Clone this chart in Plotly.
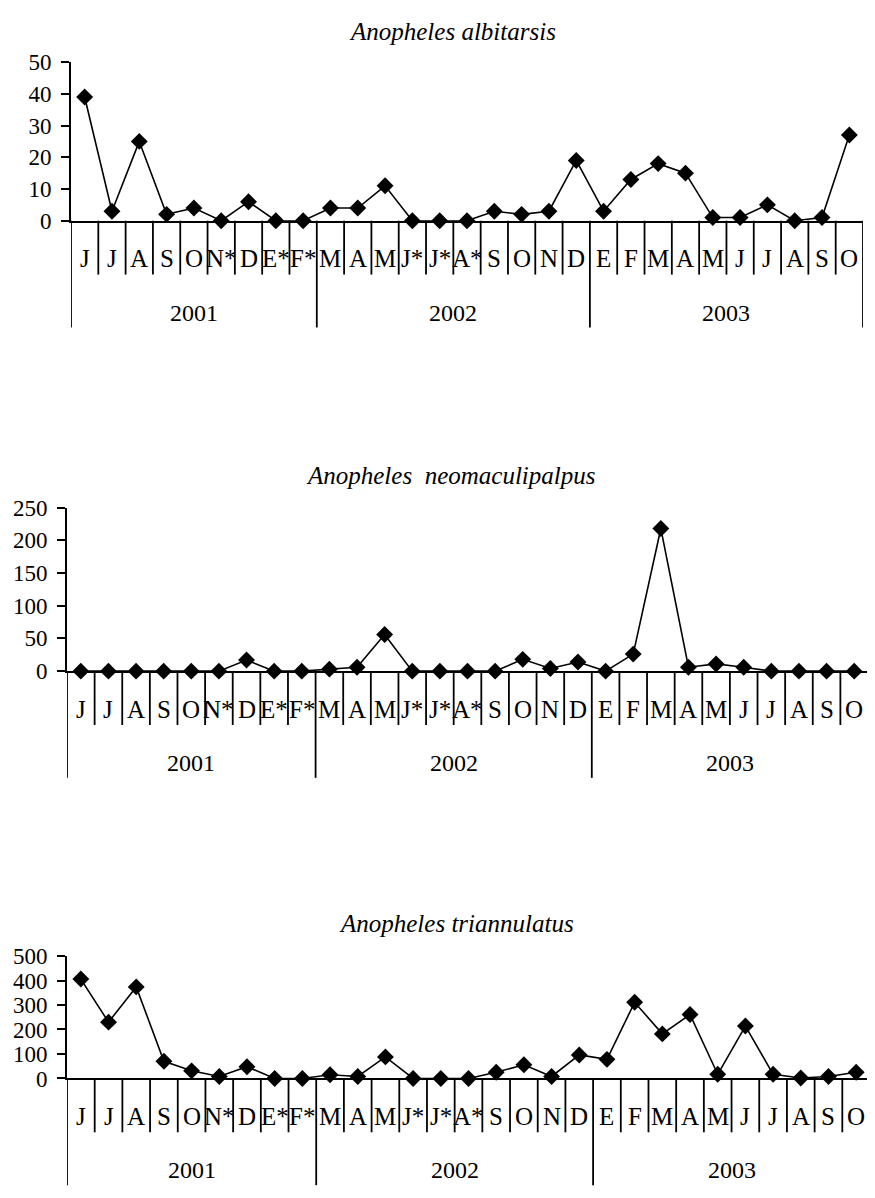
import plotly.graph_objects as go

W, H = 875, 1198
OFF = 8  # page margin around the figure in the browser

months = ["J", "J", "A", "S", "O", "N*", "D", "E*", "F*", "M", "A", "M", "J*", "J*", "A*",
          "S", "O", "N", "D", "E", "F", "M", "A", "M", "J", "J", "A", "S", "O"]
year_names = ["2001", "2002", "2003"]
year_counts = [9, 10, 10]

albitarsis = [39, 3, 25, 2, 4, 0, 6, 0, 0, 4, 4, 11, 0, 0, 0, 3, 2, 3, 19, 3, 13, 18, 15, 1, 1, 5, 0, 1, 27]
neomaculipalpus = [0, 0, 0, 0, 0, 0, 17, 0, 0, 3, 6, 56, 0, 0, 0, 0, 18, 4, 14, 0, 26, 218, 6, 11, 6, 0, 0, 0, 0]
triannulatus = [406, 230, 374, 70, 31, 8, 48, 0, 0, 15, 8, 88, 0, 0, 0, 25, 56, 8, 96, 78, 311, 182, 261, 17, 214, 17, 2, 8, 25]

titles = ["Anopheles albitarsis", "Anopheles\u00a0 neomaculipalpus", "Anopheles triannulatus"]
series = [albitarsis, neomaculipalpus, triannulatus]
y_max = [50, 250, 500]
y_step = [10, 50, 100]

# plot boxes in screen pixels: left, right, top, zero line
boxes = [(71, 863, 51, 213), (67, 868, 506, 673), (67, 870, 964, 1089)]
title_pos = [(452, 20), (450, 473), (456, 931)]

FONT = "Liberation Serif"
LW = 1.8


def px_x(p):
    return (p - OFF) / W


def px_y(p):
    return 1 - (p - OFF) / H


fig = go.Figure()
x = list(range(len(months)))

# category boundaries where a new year starts
year_edges = [-0.5]
for c in year_counts:
    year_edges.append(year_edges[-1] + c)

shapes = []
annotations = []
for k in range(3):
    left, right, top, bottom = boxes[k]
    n = "" if k == 0 else str(k + 1)
    fig.add_trace(go.Scatter(
        x=x, y=series[k], mode="lines+markers",
        xaxis="x" + n, yaxis="y" + n,
        line=dict(color="black", width=1.6),
        marker=dict(symbol="diamond", size=13, color="black"),
        cliponaxis=False, showlegend=False,
    ))
    fig.layout["xaxis" + n] = dict(
        domain=[px_x(left), px_x(right)], anchor="y" + n,
        range=[-0.5, len(months) - 0.5],
        showline=True, linecolor="black", linewidth=LW,
        showticklabels=False, ticks="", showgrid=False, zeroline=False,
    )
    fig.layout["yaxis" + n] = dict(
        domain=[px_y(bottom), px_y(top)], anchor="x" + n,
        range=[0, y_max[k]], dtick=y_step[k],
        ticks="outside", ticklen=8, tickwidth=LW, tickcolor="black",
        ticklabelstandoff=5,
        showline=True, linecolor="black", linewidth=LW,
        showgrid=False, zeroline=False,
        tickfont=dict(family=FONT, size=23, color="black"),
    )

    # month separators and year separators
    for i in range(len(months) + 1):
        b = i - 0.5
        depth = 109 if b in year_edges else 55
        shapes.append(dict(
            type="line", xref="x" + n, yref="paper",
            x0=b, x1=b, y0=px_y(bottom), y1=px_y(bottom + depth),
            line=dict(color="black", width=LW),
        ))

    for i, m in enumerate(months):
        annotations.append(dict(
            x=i, xref="x" + n, y=px_y(bottom + 39), yref="paper",
            text=m, showarrow=False, xanchor="center", yanchor="middle",
            font=dict(family=FONT, size=25, color="black"),
        ))
    for j, yr in enumerate(year_names):
        annotations.append(dict(
            x=(year_edges[j] + year_edges[j + 1]) / 2, xref="x" + n,
            y=px_y(bottom + 94), yref="paper",
            text=yr, showarrow=False, xanchor="center", yanchor="middle",
            font=dict(family=FONT, size=24, color="black"),
        ))

    tx, ty = title_pos[k]
    annotations.append(dict(
        x=px_x(tx), xref="paper", y=px_y(ty), yref="paper",
        text="<i>" + titles[k] + "</i>", showarrow=False,
        xanchor="center", yanchor="middle",
        font=dict(family=FONT, size=25, color="black"),
    ))

fig.update_layout(
    width=W, height=H,
    margin=dict(l=0, r=0, t=0, b=0),
    paper_bgcolor="white", plot_bgcolor="white",
    font=dict(family=FONT, color="black"),
    shapes=shapes, annotations=annotations,
)

fig.write_html("out.html")
